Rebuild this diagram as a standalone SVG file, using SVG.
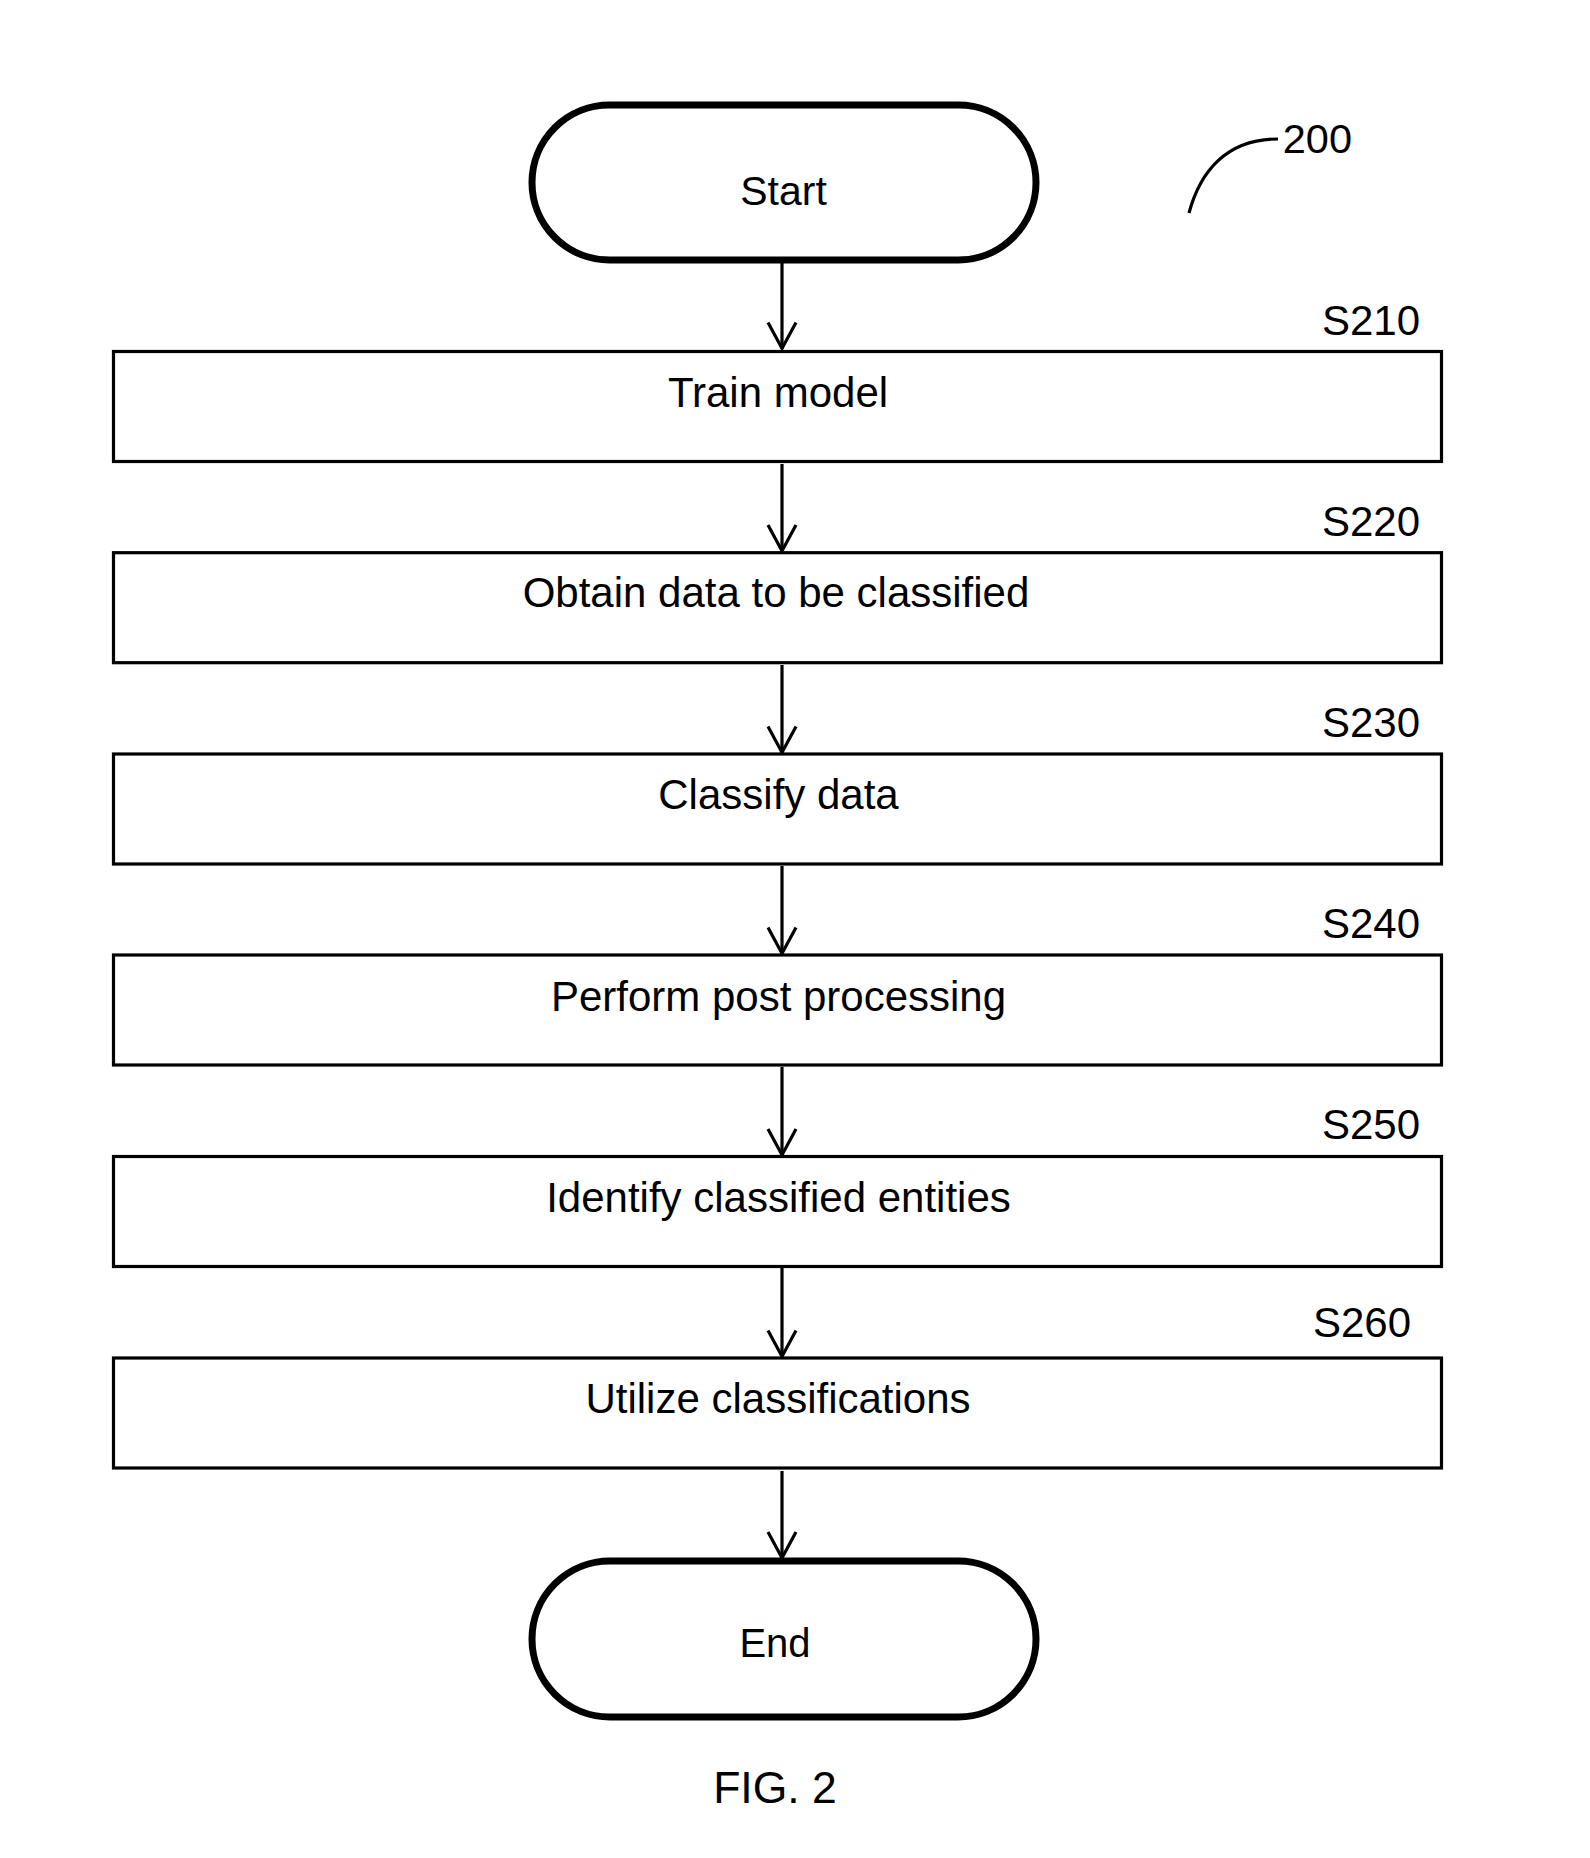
<svg xmlns="http://www.w3.org/2000/svg" width="1590" height="1858" viewBox="0 0 1590 1858">
<style>
text{font-family:"Liberation Sans",Arial,sans-serif;fill:#000}
.t{font-size:42px;text-anchor:middle}
.lbl{font-size:42px;text-anchor:end}
.box{fill:#fff;stroke:#000;stroke-width:3.2}
.term{fill:#fff;stroke:#000;stroke-width:7}
.conn{stroke:#000;stroke-width:3.2;fill:none}
</style>
<defs>
<marker id="ah" markerUnits="userSpaceOnUse" markerWidth="40" markerHeight="40" viewBox="-30 -20 40 40" refX="0" refY="0" orient="auto" overflow="visible">
<path d="M-26,-14 L0,0 L-26,14" fill="none" stroke="#000" stroke-width="3.2"/>
</marker>
</defs>
<rect width="1590" height="1858" fill="#fff"/>
<g id="connectors">
<line class="conn" x1="782" y1="263" x2="782" y2="348.5" marker-end="url(#ah)"/>
<line class="conn" x1="782" y1="464" x2="782" y2="551" marker-end="url(#ah)"/>
<line class="conn" x1="782" y1="665" x2="782" y2="752.5" marker-end="url(#ah)"/>
<line class="conn" x1="782" y1="866" x2="782" y2="953.5" marker-end="url(#ah)"/>
<line class="conn" x1="782" y1="1067" x2="782" y2="1155" marker-end="url(#ah)"/>
<line class="conn" x1="782" y1="1268" x2="782" y2="1356.5" marker-end="url(#ah)"/>
<line class="conn" x1="782" y1="1471" x2="782" y2="1558" marker-end="url(#ah)"/>
</g>
<g id="ref200">
<path class="conn" d="M1189,213 C1200,172 1226,139 1278,139"/>
<text class="lbl" x="1352" y="153" style="font-size:41.5px">200</text>
</g>
<g id="start">
<rect class="term" x="532" y="105" width="504" height="155" rx="77.5"/>
<text class="t" x="783.5" y="205" style="font-size:41px">Start</text>
</g>
<g id="s210">
<rect class="box" x="113.5" y="351.5" width="1328" height="110"/>
<text class="t" x="778" y="406.5">Train model</text>
<text class="lbl" x="1420" y="335">S210</text>
</g>
<g id="s220">
<rect class="box" x="113.5" y="552.7" width="1328" height="110"/>
<text class="t" x="776" y="606.7">Obtain data to be classified</text>
<text class="lbl" x="1420" y="536">S220</text>
</g>
<g id="s230">
<rect class="box" x="113.5" y="754" width="1328" height="110"/>
<text class="t" x="778.5" y="809">Classify data</text>
<text class="lbl" x="1420" y="737">S230</text>
</g>
<g id="s240">
<rect class="box" x="113.5" y="955" width="1328" height="110"/>
<text class="t" x="778.5" y="1011">Perform post processing</text>
<text class="lbl" x="1420" y="938">S240</text>
</g>
<g id="s250">
<rect class="box" x="113.5" y="1156.5" width="1328" height="110"/>
<text class="t" x="778.5" y="1211.5">Identify classified entities</text>
<text class="lbl" x="1420" y="1139">S250</text>
</g>
<g id="s260">
<rect class="box" x="113.5" y="1358" width="1328" height="110"/>
<text class="t" x="778" y="1413">Utilize classifications</text>
<text class="lbl" x="1411" y="1337">S260</text>
</g>
<g id="end">
<rect class="term" x="532" y="1561" width="504" height="156" rx="78"/>
<text class="t" x="775" y="1657" style="font-size:40px">End</text>
</g>
<text x="775" y="1803" style="font-size:44.5px;text-anchor:middle">FIG. 2</text>
</svg>
